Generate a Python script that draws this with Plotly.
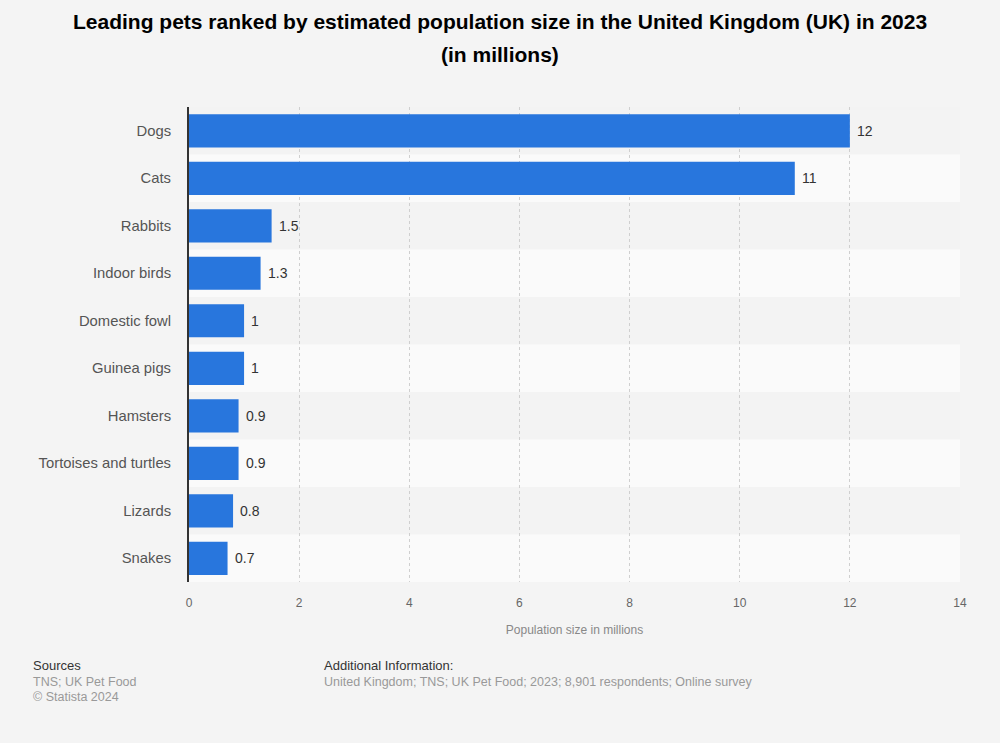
import plotly.graph_objects as go

categories = ["Dogs", "Cats", "Rabbits", "Indoor birds", "Domestic fowl", "Guinea pigs",
              "Hamsters", "Tortoises and turtles", "Lizards", "Snakes"]
values = [12, 11, 1.5, 1.3, 1, 1, 0.9, 0.9, 0.8, 0.7]
x_ticks = [0, 2, 4, 6, 8, 10, 12, 14]

FONT = "Liberation Sans, Arial, sans-serif"

W, H = 1000, 743
pl, pr, pt, pb = 189, 40, 107, 161
pw, ph = W - pl - pr, H - pt - pb
def px(x):
    return (x - pl) / pw
def py(y):
    return 1 - (y - pt) / ph

fig = go.Figure()
fig.add_trace(go.Bar(
    x=values, y=categories, orientation="h",
    marker=dict(color="#2876dd", line=dict(width=0)),
    width=0.7, hoverinfo="skip",
))

# value labels
for c, v in zip(categories, values):
    fig.add_annotation(x=v, y=c, xref="x", yref="y", text=f"{v:g}", showarrow=False,
                       xanchor="left", yanchor="middle", xshift=5,
                       font=dict(size=14, color="#333333", family=FONT))

# alternating row stripes
shapes = []
for i, c in enumerate(categories):
    shapes.append(dict(type="rect", xref="paper", yref="y", layer="below",
                       x0=0, x1=1, y0=i - 0.5, y1=i + 0.5,
                       fillcolor="#f3f3f3" if i % 2 == 0 else "#fafafa", line=dict(width=0)))
fig.update_layout(shapes=shapes)

fig.update_layout(
    width=W, height=H,
    paper_bgcolor="#f4f4f4", plot_bgcolor="#f4f4f4",
    margin=dict(l=pl, r=pr, t=pt, b=pb),
    showlegend=False,
    font=dict(family=FONT),
    xaxis=dict(
        range=[0, 14], tickvals=x_ticks, ticktext=[str(t) for t in x_ticks],
        showgrid=True, gridcolor="#cfcfcf", griddash="dot", gridwidth=1,
        zeroline=False, showline=False,
        tickfont=dict(size=12, color="#666666", family=FONT),
        ticks="", ticklabelstandoff=12,
        title=dict(text="Population size in millions", font=dict(size=12, color="#888888", family=FONT), standoff=16),
    ),
    yaxis=dict(
        categoryorder="array", categoryarray=categories, autorange="reversed",
        showgrid=False, zeroline=False,
        showline=True, linecolor="#333333", linewidth=2,
        tickfont=dict(size=14.8, color="#555555", family=FONT),
        ticks="", ticklabelstandoff=13,
    ),
)

# title lines
for txt, y in [("Leading pets ranked by estimated population size in the United Kingdom (UK) in 2023", 22),
               ("(in millions)", 55)]:
    fig.add_annotation(text=f"<b>{txt}</b>", x=(500 - pl) / pw, y=py(y), xref="paper", yref="paper",
                       xanchor="center", yanchor="middle", showarrow=False,
                       font=dict(size=21, color="#000000", family=FONT))

footer = [
    ("Sources", 31, 665, 13, "#333333"),
    ("TNS; UK Pet Food", 31, 682, 12.5, "#999999"),
    ("© Statista 2024", 31, 697, 12.5, "#999999"),
    ("Additional Information:", 322, 665, 13, "#333333"),
    ("United Kingdom; TNS; UK Pet Food; 2023; 8,901 respondents; Online survey", 322, 682, 12.5, "#999999"),
]
for txt, x, y, s, col in footer:
    fig.add_annotation(text=txt, x=px(x), y=py(y), xref="paper", yref="paper",
                       xanchor="left", yanchor="middle", showarrow=False,
                       font=dict(size=s, color=col, family=FONT))

fig.write_html("out.html", config={"displayModeBar": False},
               post_script="document.body.style.margin='0';document.body.style.background='#f4f4f4';")
